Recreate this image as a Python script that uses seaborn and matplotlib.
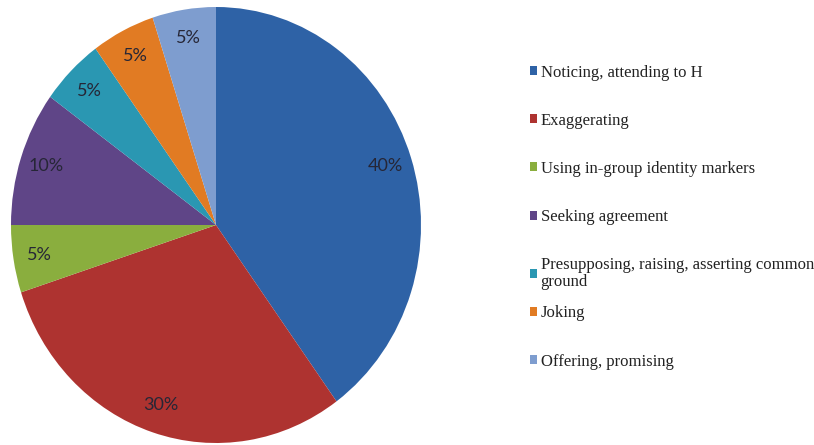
import matplotlib
matplotlib.use("Agg")
import matplotlib.pyplot as plt
import seaborn as sns

# data
strategies = ["Noticing, attending to H",
              "Exaggerating",
              "Using in-group identity markers",
              "Seeking agreement",
              "Presupposing, raising, asserting common\nground",
              "Joking",
              "Offering, promising"]
shares = [40, 30, 5, 10, 5, 5, 5]
slice_colors = ["#2E62A6", "#AE3330", "#8AAE3E", "#5F4587",
                "#2A97B2", "#E17B23", "#7E9DCF"]

sns.set_theme(style="white")
plt.rcParams["font.family"] = ["Lato", "DejaVu Sans"]

fig = plt.figure(figsize=(8.14, 4.45), dpi=100)
fig.set_facecolor("white")
ax = fig.add_axes([11/814, 2/445, 410/814, 436/445])

palette = sns.color_palette(slice_colors)
wedges, texts, autotexts = ax.pie(
    shares, colors=palette, startangle=90, counterclock=False,
    autopct="%d%%", pctdistance=0.87, radius=1,
    wedgeprops=dict(linewidth=0),
    textprops=dict(fontsize=13, color="#262636"))
ax.set_aspect("auto")
ax.set_xlim(-1, 1)
ax.set_ylim(-1, 1)
ax.axis("off")

#--- legend on the right, serif like the original -------------
# split in two: the wrapped entry squeezes the next one up in the original
leg_kw = dict(loc="upper left", frameon=False, borderpad=0,
              borderaxespad=0, handlelength=0.45, handleheight=0.45,
              handletextpad=0.2, labelspacing=1.93,
              prop=dict(family="Liberation Serif", size=12))
split = 5
legs = [fig.legend(wedges[:split], strategies[:split],
                   bbox_to_anchor=(0.651, 0.855), **leg_kw),
        fig.legend(wedges[split:], strategies[split:],
                   bbox_to_anchor=(0.651, 0.3135), **leg_kw)]
for leg in legs:
    for t in leg.get_texts():
        t.set_color("#222222")
        t.set_linespacing(1.05)

plt.savefig("out.png", dpi=100, facecolor="white")
